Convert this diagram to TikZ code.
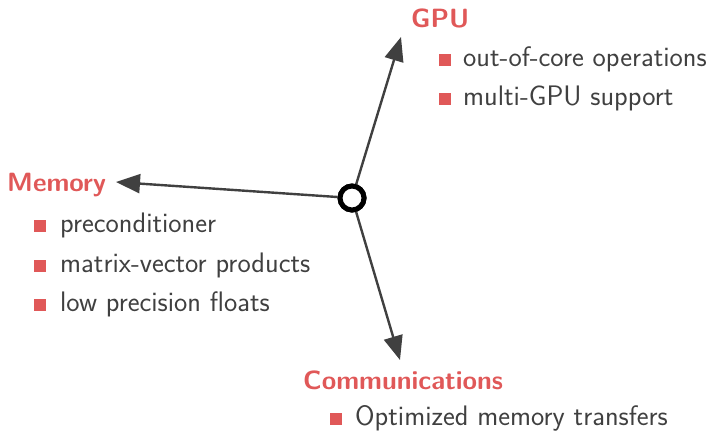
\documentclass[tikz,border=0pt]{standalone}
\usepackage{fontspec}
\usetikzlibrary{arrows.meta}
\definecolor{accent}{RGB}{224,88,88}
\definecolor{fg}{RGB}{64,64,64}
\begin{document}
\begin{tikzpicture}[x=1pt,y=-1pt,
  head/.style={font=\sffamily\fontsize{26.4}{26.4}\selectfont\bfseries, text=accent, anchor=base west, inner sep=0pt},
  item/.style={font=\sffamily\fontsize{28.2}{28.2}\selectfont, text=fg, anchor=base west, inner sep=0pt},
  bul/.style={fill=accent, minimum size=12pt, inner sep=0pt, anchor=south west},
  hub/.style={circle, draw=black, line width=5pt, fill=white, minimum size=24pt, inner sep=0pt},
  conn/.style={draw=fg, line width=2.4pt, -{Triangle[length=24pt,width=19pt]}}]
\useasboundingbox (0,0) rectangle (711,431);
\coordinate (gputip) at (401,37);
\coordinate (memtip) at (116,182);
\coordinate (comtip) at (400,360);
\node[hub] (c) at (352,198) {};
\draw[conn] (c) -- (gputip);
\draw[conn] (c) -- (memtip);
\draw[conn] (c) -- (comtip);
\node[hub] (c2) at (c) {};
% GPU
\node[head] (gpu) at (411,27) {GPU};
\node[item] (g1) at (463,66) {out-of-core operations};
\node[item] (g2) at (463,105) {multi-GPU support};
\node[bul] (bg1) at (439,66) {};
\node[bul] (bg2) at (439,105) {};
% Memory
\node[head] (mem) at (7,191) {Memory};
\node[item] (m1) at (60,232) {preconditioner};
\node[item] (m2) at (60,272) {matrix-vector products};
\node[item] (m3) at (60,311) {low precision floats};
\node[bul] (bm1) at (34,232) {};
\node[bul] (bm2) at (34,272) {};
\node[bul] (bm3) at (34,311) {};
% Communications
\node[head] (com) at (303,389) {Communications};
\node[item] (c1) at (355,425) {Optimized memory transfers};
\node[bul] (bc1) at (330,425) {};
\end{tikzpicture}
\end{document}
